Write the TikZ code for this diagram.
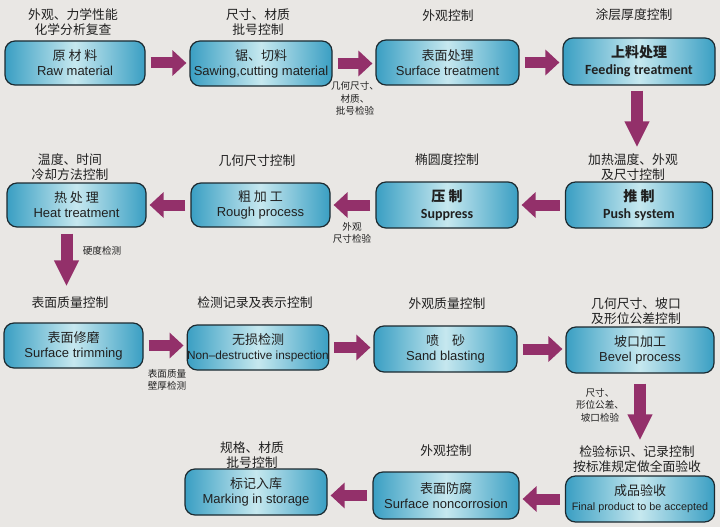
\documentclass[tikz,border=0pt]{standalone}
\usepackage{fontspec}
\setmainfont{Liberation Sans}
\newfontfamily\cjk{Noto Sans CJK SC}
\newfontfamily\calfont{Carlito}
\usetikzlibrary{arrows.meta}
\definecolor{bg}{HTML}{E9E7E4}
\definecolor{boxdark}{HTML}{3A9FC3}
\definecolor{boxlight}{HTML}{C6E8EF}
\definecolor{boxline}{HTML}{1C2A30}
\definecolor{arr}{HTML}{93306A}
\definecolor{txt}{HTML}{202020}
\tikzset{
  box/.style={draw=boxline, line width=1.2pt, rounded corners=10pt,
    left color=boxdark, right color=boxdark, middle color=boxlight,
    inner sep=0pt, align=center, text=txt,
    font=\fontsize{13}{15}\selectfont},
  lab/.style={align=center, text=txt, inner sep=0pt,
    font=\cjk\fontsize{12.8}{15}\selectfont},
  small/.style={align=center, text=txt, inner sep=0pt,
    font=\cjk\fontsize{9.6}{12.5}\selectfont},
  fat/.style={draw=arr, line width=11pt,
    -{Triangle[length=14pt,width=25pt]}, shorten <=5pt, shorten >=3pt},
  fatv/.style={draw=arr, line width=12pt,
    -{Triangle[length=26pt,width=23pt]}}
}
\begin{document}
\begin{tikzpicture}[x=1pt,y=-1pt]
\useasboundingbox (0,0) rectangle (720,527);
\fill[bg] (0,0) rectangle (720,527);

% row 1
\node[box, minimum width=140pt, minimum height=44pt] (raw) at (75,63)
  {{\cjk 原 材 料}\\Raw material};
\node[box, minimum width=142pt, minimum height=45pt] (saw) at (261,63.5)
  {{\cjk 锯、切料}\\Sawing,cutting material};
\node[box, minimum width=143pt, minimum height=45pt] (surf) at (447.5,62.5)
  {{\cjk 表面处理}\\Surface treatment};
\node[box, minimum width=152pt, minimum height=47pt, font=\fontsize{14}{17}\selectfont] (feed) at (639,61.5)
  {{\cjk\bfseries 上料处理}\\{\calfont\bfseries Feeding treatment}};

% row 2
\node[box, minimum width=147pt, minimum height=46pt, font=\fontsize{14}{17}\selectfont] (push) at (639,205)
  {{\cjk\bfseries 推 制}\\{\calfont\bfseries Push system}};
\node[box, minimum width=142pt, minimum height=46pt, font=\fontsize{14}{17}\selectfont] (supp) at (447,205)
  {{\cjk\bfseries 压 制}\\{\calfont\bfseries Suppress}};
\node[box, minimum width=139pt, minimum height=44pt] (rough) at (260.5,205)
  {{\cjk 粗 加 工}\\Rough process};
\node[box, minimum width=139pt, minimum height=44pt] (heat) at (76.5,205)
  {{\cjk 热 处 理}\\Heat treatment};

% row 3
\node[box, minimum width=139pt, minimum height=45pt] (trim) at (73.5,345.5)
  {{\cjk 表面修磨}\\Surface trimming};
\node[box, minimum width=140pt, minimum height=45pt] (ndt) at (258,347.5)
  {{\cjk 无损检测}\\{\fontsize{11.8}{15}\selectfont Non–destructive inspection}};
\node[box, minimum width=143pt, minimum height=46pt] (sand) at (445.5,349)
  {{\cjk 喷　砂}\\Sand blasting};
\node[box, minimum width=148pt, minimum height=46pt] (bevel) at (640,350)
  {{\cjk 坡口加工}\\Bevel process};

% row 4
\node[box, minimum width=149pt, minimum height=46pt] (final) at (640,499)
  {{\cjk 成品验收}\\{\fontsize{10.8}{15}\selectfont Final product to be accepted}};
\node[box, minimum width=146pt, minimum height=47pt] (noncorr) at (446,495.5)
  {{\cjk 表面防腐}\\Surface noncorrosion};
\node[box, minimum width=142pt, minimum height=46pt] (mark) at (256,492)
  {{\cjk 标记入库}\\Marking in storage};

% horizontal arrows
\draw[fat] (raw.east) -- (raw.east -| saw.west);
\draw[fat] (saw.east) -- (saw.east -| surf.west);
\draw[fat] (surf.east) -- (surf.east -| feed.west);
\draw[fat] (push.west) -- (push.west -| supp.east);
\draw[fat] (supp.west) -- (supp.west -| rough.east);
\draw[fat] (rough.west) -- (rough.west -| heat.east);
\draw[fat] (trim.east) -- (trim.east -| ndt.west);
\draw[fat] (ndt.east) -- (ndt.east -| sand.west);
\draw[fat] (sand.east) -- (sand.east -| bevel.west);
\draw[fat] (final.west) -- (final.west -| noncorr.east);
\draw[fat] (noncorr.west) -- (noncorr.west -| mark.east);

% vertical arrows
\draw[fatv] ([xshift=-2pt,yshift=-5pt]feed.south) -- ([xshift=-2pt,yshift=34pt]push.north);
\draw[fatv] ([xshift=-10pt,yshift=-6pt]heat.south) -- ([xshift=-7pt,yshift=36pt]trim.north);
\draw[fatv] ([yshift=-10pt]bevel.south) -- ([yshift=35pt]final.north);

% labels
\node[lab] (l1) at (73,22.5) {外观、力学性能\\化学分析复查};
\node[lab] (l2) at (258,22.5) {尺寸、材质\\批号控制};
\node[lab] (l3) at (448,16) {外观控制};
\node[lab] (l4) at (634,15) {涂层厚度控制};
\node[small] (s1) at (355,98.5) {几何尺寸、\\材质、\\批号检验};
\node[lab] (l5) at (70,167) {温度、时间\\冷却方法控制};
\node[lab] (l6) at (257,161) {几何尺寸控制};
\node[lab] (l7) at (447,160) {椭圆度控制};
\node[lab] (l8) at (633,167) {加热温度、外观\\及尺寸控制};
\node[small] (s2) at (352,233) {外观\\尺寸检验};
\node[small] (s3) at (102,251) {硬度检测};
\node[lab] (l9) at (70,303) {表面质量控制};
\node[lab] (l10) at (255,303) {检测记录及表示控制};
\node[lab] (l11) at (447,304) {外观质量控制};
\node[lab] (l12) at (636,311) {几何尺寸、坡口\\及形位公差控制};
\node[small] (s4) at (167,380) {表面质量\\壁厚检测};
\node[small] (s5) at (600,405) {尺寸、\\形位公差、\\坡口检验};
\node[lab] (l13) at (252,455) {规格、材质\\批号控制};
\node[lab] (l14) at (446,451) {外观控制};
\node[lab] (l15) at (637,459.5) {检验标识、记录控制\\按标准规定做全面验收};
\end{tikzpicture}
\end{document}
